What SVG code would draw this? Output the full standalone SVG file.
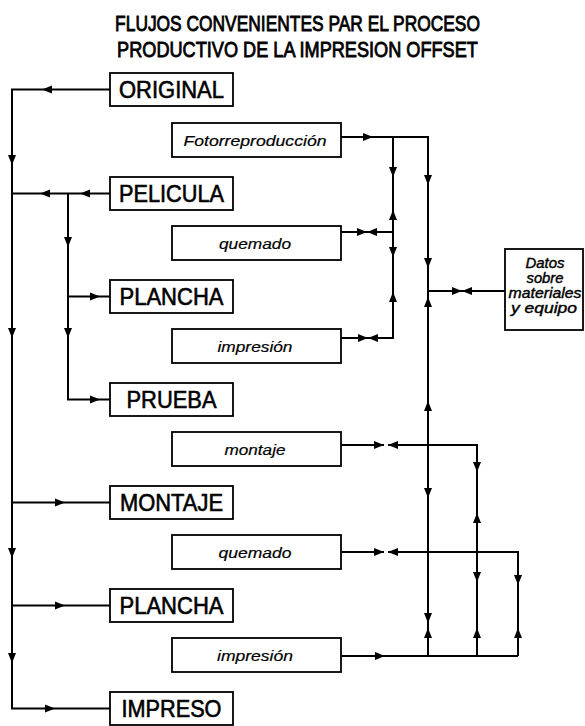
<svg xmlns="http://www.w3.org/2000/svg" width="585" height="726" viewBox="0 0 585 726">
<style>
.box{fill:#fff;stroke:#000;stroke-width:1.8}
.lbl{font-family:"Liberation Sans",Arial,sans-serif;font-size:23.5px;fill:#000;stroke:#000;stroke-width:0.6;text-anchor:middle}
.it{font-family:"Liberation Sans",Arial,sans-serif;font-size:15.5px;font-style:italic;fill:#000;stroke:#000;stroke-width:0.2;text-anchor:middle}
.dt{font-family:"Liberation Sans",Arial,sans-serif;font-size:14.5px;font-style:italic;fill:#000;stroke:#000;stroke-width:0.4;text-anchor:middle}
.ttl{font-family:"Liberation Sans",Arial,sans-serif;font-size:22.8px;fill:#000;stroke:#000;stroke-width:0.9;text-anchor:middle}
.ln{fill:none;stroke:#000;stroke-width:2}
.ah{fill:#000}
</style>
<defs><path id="a" d="M5,0 L-5,-4 L-5,4 Z"/></defs>
<rect width="585" height="726" fill="#fff"/>
<g id="title">
<text class="ttl" x="0" y="31.5" transform="translate(297.5,0) scale(0.76,1)" textLength="480" lengthAdjust="spacingAndGlyphs">FLUJOS CONVENIENTES PAR EL PROCESO</text>
<text class="ttl" x="0" y="57" transform="translate(297.5,0) scale(0.786,1)" textLength="459" lengthAdjust="spacingAndGlyphs">PRODUCTIVO DE LA IMPRESION OFFSET</text>
</g>
<g id="connectors">
<path class="ln" d="M110,89.5 H12 V708.5 H110 M110,193.5 H12 M68,193.5 V399.5 H110 M68,296.5 H110 M12,502.5 H110 M12,605.5 H110"/>
<path class="ln" d="M341,137 H428 V656 M393,137 V338 H341 M341,232 H393 M428,291 H505 M341,445 H384 M388,445 H477 V656 M341,552 H384 M388,552 H518 V656 M341,656 H518"/>
<g class="ah">
<use href="#a" transform="translate(47,89.5) rotate(180)"/>
<use href="#a" transform="translate(85,193.5) rotate(180)"/>
<use href="#a" transform="translate(45,193.5) rotate(180)"/>
<use href="#a" transform="translate(95,296.5)"/>
<use href="#a" transform="translate(95,399.5)"/>
<use href="#a" transform="translate(60,502.5)"/>
<use href="#a" transform="translate(60,605.5)"/>
<use href="#a" transform="translate(50,708.5)"/>
<use href="#a" transform="translate(12,160) rotate(90)"/>
<use href="#a" transform="translate(12,333) rotate(90)"/>
<use href="#a" transform="translate(12,553) rotate(90)"/>
<use href="#a" transform="translate(12,658) rotate(90)"/>
<use href="#a" transform="translate(68,242) rotate(90)"/>
<use href="#a" transform="translate(68,333) rotate(90)"/>
<use href="#a" transform="translate(368,137)"/>
<use href="#a" transform="translate(362,232)"/>
<use href="#a" transform="translate(372,232) rotate(180)"/>
<use href="#a" transform="translate(363,338)"/>
<use href="#a" transform="translate(373,338) rotate(180)"/>
<use href="#a" transform="translate(457,291)"/>
<use href="#a" transform="translate(467,291) rotate(180)"/>
<use href="#a" transform="translate(379,445)"/>
<use href="#a" transform="translate(393,445) rotate(180)"/>
<use href="#a" transform="translate(379,552)"/>
<use href="#a" transform="translate(393,552) rotate(180)"/>
<use href="#a" transform="translate(380,656)"/>
<use href="#a" transform="translate(393,172) rotate(90)"/>
<use href="#a" transform="translate(393,215) rotate(-90)"/>
<use href="#a" transform="translate(393,252) rotate(90)"/>
<use href="#a" transform="translate(393,297) rotate(-90)"/>
<use href="#a" transform="translate(428,180) rotate(90)"/>
<use href="#a" transform="translate(428,263) rotate(90)"/>
<use href="#a" transform="translate(428,302) rotate(-90)"/>
<use href="#a" transform="translate(428,406) rotate(-90)"/>
<use href="#a" transform="translate(428,493) rotate(90)"/>
<use href="#a" transform="translate(428,618) rotate(90)"/>
<use href="#a" transform="translate(428,633) rotate(-90)"/>
<use href="#a" transform="translate(477,467) rotate(90)"/>
<use href="#a" transform="translate(477,518) rotate(-90)"/>
<use href="#a" transform="translate(477,577) rotate(90)"/>
<use href="#a" transform="translate(477,633) rotate(-90)"/>
<use href="#a" transform="translate(518,580) rotate(90)"/>
<use href="#a" transform="translate(518,633) rotate(-90)"/>
</g>
</g>
<g id="original"><rect class="box" x="110" y="73" width="123" height="33"/><text class="lbl" x="171.5" y="98" textLength="105" lengthAdjust="spacingAndGlyphs">ORIGINAL</text></g>
<g id="pelicula"><rect class="box" x="110" y="177" width="123" height="33"/><text class="lbl" x="171.5" y="202" textLength="105" lengthAdjust="spacingAndGlyphs">PELICULA</text></g>
<g id="plancha1"><rect class="box" x="110" y="280" width="123" height="33"/><text class="lbl" x="171.5" y="305" textLength="104" lengthAdjust="spacingAndGlyphs">PLANCHA</text></g>
<g id="prueba"><rect class="box" x="110" y="383" width="123" height="33"/><text class="lbl" x="171.5" y="408" textLength="90" lengthAdjust="spacingAndGlyphs">PRUEBA</text></g>
<g id="montaje1"><rect class="box" x="110" y="486" width="123" height="33"/><text class="lbl" x="171.5" y="511" textLength="103" lengthAdjust="spacingAndGlyphs">MONTAJE</text></g>
<g id="plancha2"><rect class="box" x="110" y="589" width="123" height="33"/><text class="lbl" x="171.5" y="614" textLength="104" lengthAdjust="spacingAndGlyphs">PLANCHA</text></g>
<g id="impreso"><rect class="box" x="110" y="692" width="123" height="33"/><text class="lbl" x="171.5" y="717" textLength="100" lengthAdjust="spacingAndGlyphs">IMPRESO</text></g>
<g id="fotorreproduccion"><rect class="box" x="172" y="123" width="169" height="34"/><text class="it" x="255" y="145.5" textLength="143" lengthAdjust="spacingAndGlyphs">Fotorreproducción</text></g>
<g id="quemado1"><rect class="box" x="172" y="226" width="169" height="34"/><text class="it" x="255" y="248.5" textLength="72" lengthAdjust="spacingAndGlyphs">quemado</text></g>
<g id="impresion1"><rect class="box" x="172" y="329" width="169" height="34"/><text class="it" x="255" y="351.5" textLength="75" lengthAdjust="spacingAndGlyphs">impresión</text></g>
<g id="montaje2"><rect class="box" x="172" y="432" width="169" height="34"/><text class="it" x="255" y="454.5" textLength="61" lengthAdjust="spacingAndGlyphs">montaje</text></g>
<g id="quemado2"><rect class="box" x="172" y="535" width="169" height="34"/><text class="it" x="255" y="557.5" textLength="73" lengthAdjust="spacingAndGlyphs">quemado</text></g>
<g id="impresion2"><rect class="box" x="172" y="638" width="169" height="34"/><text class="it" x="255" y="660.5" textLength="76" lengthAdjust="spacingAndGlyphs">impresión</text></g>
<g id="datos"><rect class="box" x="505" y="249" width="78" height="81"/>
<text class="dt" x="545" y="268" textLength="39" lengthAdjust="spacingAndGlyphs">Datos</text>
<text class="dt" x="545" y="283" textLength="37" lengthAdjust="spacingAndGlyphs">sobre</text>
<text class="dt" x="545" y="298" textLength="73" lengthAdjust="spacingAndGlyphs">materiales</text>
<text class="dt" x="544" y="313" textLength="66" lengthAdjust="spacingAndGlyphs">y equipo</text>
</g>
</svg>
